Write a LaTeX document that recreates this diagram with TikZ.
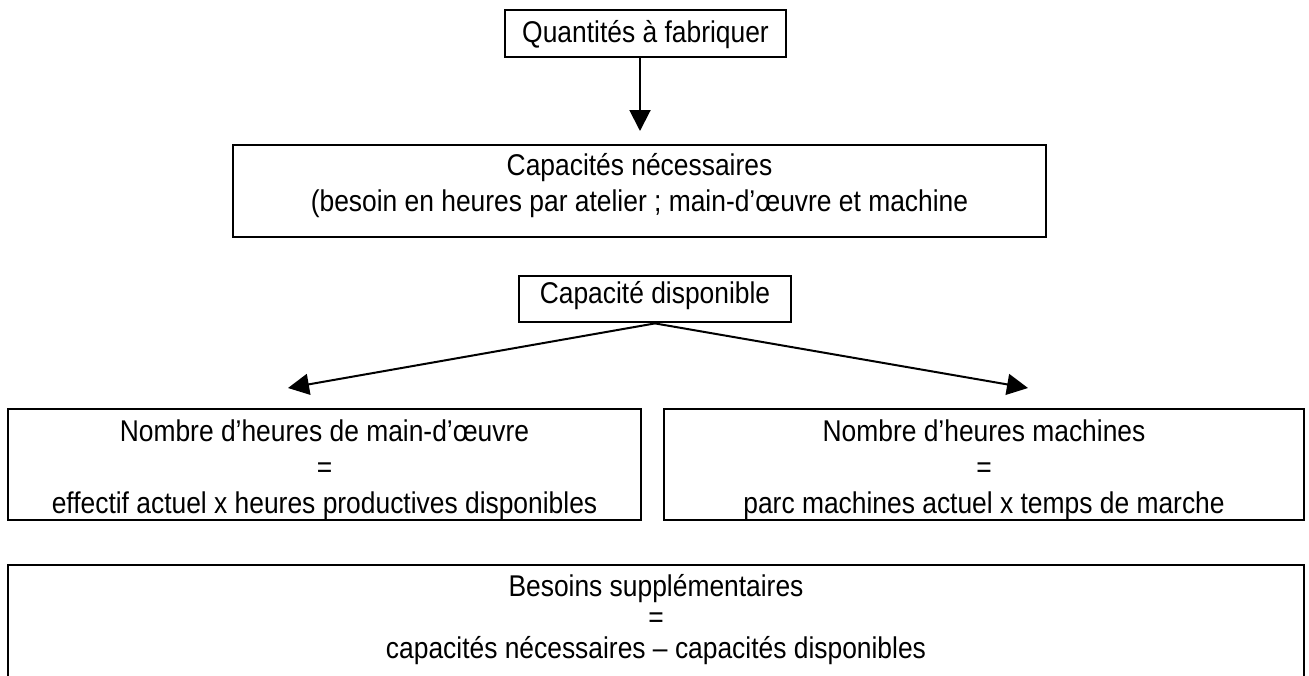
\documentclass[tikz,border=0pt]{standalone}
\usepackage{fontspec}
\setmainfont{Liberation Sans}[FakeStretch=0.88]
\usetikzlibrary{arrows.meta}
\begin{document}
\begin{tikzpicture}[x=1pt,y=-1pt,
  box/.style={draw, line width=2.8pt, inner sep=0pt, align=center,
    font=\fontsize{30}{36}\selectfont},
  link/.style={line width=2pt, -{Triangle[length=21pt,width=21pt]}}]
\useasboundingbox (0,0) rectangle (1309,675);
\clip (0,0) rectangle (1309,675);

% boxes (text height/depth place the last baseline of each box)
\node[box, minimum width=281pt, minimum height=47pt, text height=22pt, text depth=5pt]
  (qf) at (645.5,33.5) {Quantités à fabriquer};
\node[box, minimum width=813pt, minimum height=92pt, text height=50pt, text depth=10pt]
  (cn) at (639.5,191) {Capacités nécessaires\\(besoin en heures par atelier ; main-d’œuvre et machine};
\node[box, minimum width=272pt, minimum height=46pt, text height=20pt, text depth=12pt]
  (cd) at (655,299) {Capacité disponible};
\node[box, minimum width=633pt, minimum height=111pt, text height=100pt, text depth=3pt]
  (mo) at (324.5,464.5) {Nombre d’heures de main-d’œuvre\\=\\effectif actuel x heures productives disponibles};
\node[box, minimum width=640pt, minimum height=111pt, text height=100pt, text depth=3pt]
  (hm) at (984,464.5) {Nombre d’heures machines\\=\\parc machines actuel x temps de marche};
\node[box, minimum width=1296pt, minimum height=125pt, text height=80pt, text depth=19pt,
  font=\fontsize{30}{31}\selectfont]
  (bs) at (656,627.5) {Besoins supplémentaires\\=\\capacités nécessaires – capacités disponibles};

% connectors
\coordinate (t1) at (640,131);
\coordinate (tl) at (288,388);
\coordinate (tr) at (1028,388);
\draw[link] (qf.south -| t1) -- (t1);
\draw[link] (cd.south) -- (tl);
\draw[link] (cd.south) -- (tr);
\end{tikzpicture}
\end{document}
